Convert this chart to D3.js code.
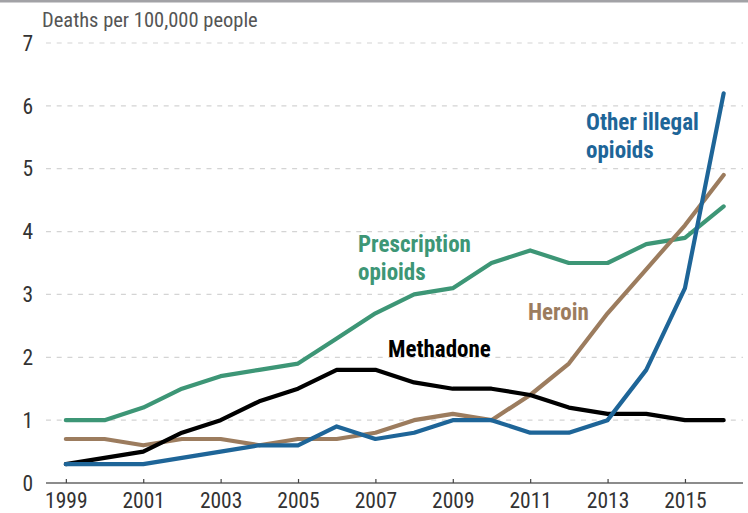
<!DOCTYPE html>
<html>
<head>
<meta charset="utf-8">
<script src="https://cdn.jsdelivr.net/npm/d3@7/dist/d3.min.js"></script>
<style>
  html, body { margin: 0; padding: 0; background: #fff; }
  svg { display: block; }
  text { font-family: "Liberation Sans Narrow", "Roboto Condensed", "Arial Narrow", sans-serif; }
</style>
</head>
<body>
<svg id="chart" width="748" height="513"></svg>
<script>
// Opioid overdose death rates, deaths per 100,000 people, 1999–2016
const years = d3.range(1999, 2017);
const prescription = [1.0, 1.0, 1.2, 1.5, 1.7, 1.8, 1.9, 2.3, 2.7, 3.0, 3.1, 3.5, 3.7, 3.5, 3.5, 3.8, 3.9, 4.4];
const heroin       = [0.7, 0.7, 0.6, 0.7, 0.7, 0.6, 0.7, 0.7, 0.8, 1.0, 1.1, 1.0, 1.4, 1.9, 2.7, 3.4, 4.1, 4.9];
const otherIllegal = [0.3, 0.3, 0.3, 0.4, 0.5, 0.6, 0.6, 0.9, 0.7, 0.8, 1.0, 1.0, 0.8, 0.8, 1.0, 1.8, 3.1, 6.2];
const methadone    = [0.3, 0.4, 0.5, 0.8, 1.0, 1.3, 1.5, 1.8, 1.8, 1.6, 1.5, 1.5, 1.4, 1.2, 1.1, 1.1, 1.0, 1.0];
const xTickYears = [1999, 2001, 2003, 2005, 2007, 2009, 2011, 2013, 2015];
const yTicks = [0, 1, 2, 3, 4, 5, 6, 7];
const yTitle = "Deaths per 100,000 people";

const svg = d3.select("#chart");

const x = d3.scaleLinear().domain([1998.5, 2016.5]).range([46.5, 743]);
const y = d3.scaleLinear().domain([0, 7]).range([483, 43]);

// top rule
svg.append("rect").attr("x", 0).attr("y", 0).attr("width", 748).attr("height", 2.5).attr("fill", "#a2a2a6");

// axis title
svg.append("text")
  .attr("x", 42).attr("y", 27)
  .attr("font-size", 20.5).attr("fill", "#555")
  .text(yTitle);

// dashed gridlines
svg.append("g")
  .selectAll("line")
  .data(yTicks.filter(d => d > 0))
  .join("line")
  .attr("x1", 46).attr("x2", 743)
  .attr("y1", d => y(d)).attr("y2", d => y(d))
  .attr("stroke", "#d4d4d4").attr("stroke-width", 1.2)
  .attr("stroke-dasharray", "5,5.7");

// y tick labels
svg.append("g")
  .selectAll("text")
  .data(yTicks)
  .join("text")
  .attr("x", 33).attr("y", d => y(d))
  .attr("dy", "0.36em")
  .attr("text-anchor", "end")
  .attr("font-size", 21.5).attr("fill", "#333")
  .text(d => d);

// x axis
const xAxis = d3.axisBottom(x)
  .tickValues(xTickYears)
  .tickFormat(d3.format("d"))
  .tickSizeInner(-4)
  .tickSizeOuter(0);
const gx = svg.append("g").attr("transform", `translate(0,${y(0)})`).call(xAxis);
gx.select(".domain").attr("stroke", "#666").attr("stroke-width", 1.6).attr("d", "M46,0H743");
gx.selectAll(".tick line").attr("stroke", "#444").attr("stroke-width", 1.2);
gx.selectAll(".tick text")
  .attr("y", 25).attr("dy", 0)
  .attr("font-size", 21.5).attr("fill", "#333")
  .attr("font-family", "\"Liberation Sans Narrow\", \"Roboto Condensed\", sans-serif");

// series lines
const series = [
  { name: "Prescription", values: prescription, color: "#3d9676" },
  { name: "Heroin", values: heroin, color: "#9c7c5e" },
  { name: "Methadone", values: methadone, color: "#000000" },
  { name: "Other", values: otherIllegal, color: "#1e6598" }
];
const line = d3.line().x((d, i) => x(years[i])).y(d => y(d));
svg.append("g")
  .selectAll("path")
  .data(series)
  .join("path")
  .attr("d", d => line(d.values))
  .attr("fill", "none")
  .attr("stroke", d => d.color)
  .attr("stroke-width", 4.2)
  .attr("stroke-linejoin", "round")
  .attr("stroke-linecap", "round");

// series labels
function label(lines, px, py, color) {
  const t = svg.append("text")
    .attr("x", px).attr("y", py)
    .attr("font-size", 23).attr("font-weight", "bold")
    .attr("fill", color);
  lines.forEach((s, i) => {
    t.append("tspan").attr("x", px).attr("dy", i === 0 ? 0 : 28).text(s);
  });
}
label(["Prescription", "opioids"], 358, 252, "#3d9676");
label(["Other illegal", "opioids"], 586, 130, "#1e6598");
label(["Heroin"], 528, 320, "#9c7c5e");
label(["Methadone"], 388, 357, "#000000");
</script>
</body>
</html>
